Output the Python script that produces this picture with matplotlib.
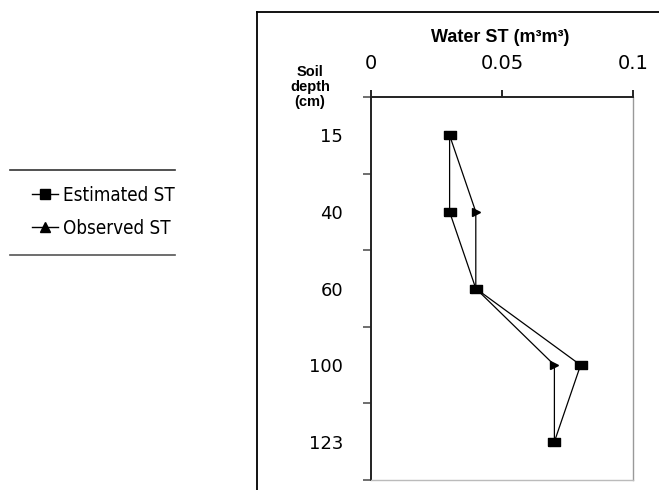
import numpy as np
import matplotlib.pyplot as plt
from matplotlib.lines import Line2D
from matplotlib import font_manager

depths = ["15", "40", "60", "100", "123"]
estimated_st = [0.03, 0.03, 0.04, 0.08, 0.07]
observed_st = [0.03, 0.04, 0.04, 0.07, 0.07]
x_ticks = [0, 0.05, 0.1]
x_labels = ["0", "0.05", "0.1"]

rect_marker = [(-1.4, -1), (1.4, -1), (1.4, 1), (-1.4, 1), (-1.4, -1)]

# look for a narrow regular font for the legend, like Arial Narrow
narrow = None
for f in font_manager.fontManager.ttflist:
    fn = f.fname.split("/")[-1]
    if ("Narrow" in fn or "Condensed" in fn) and "Bold" not in fn \
            and "Oblique" not in fn and "Italic" not in fn:
        narrow = f.fname
        break
if narrow:
    leg_font = font_manager.FontProperties(fname=narrow, size=13.5)
else:
    leg_font = font_manager.FontProperties(family="Liberation Sans", size=13)

fig = plt.figure(figsize=(6.59, 4.90), dpi=100)
ax = fig.add_axes([371 / 659, 1 - 480 / 490, 262 / 659, 383 / 490])

pos = np.arange(len(depths))
ax.plot(observed_st, pos, color="black", lw=0.9, marker=">", ms=6,
        mfc="black", mec="black")
ax.plot(estimated_st, pos, color="black", lw=0.9, marker=rect_marker, ms=9,
        mfc="black", mec="black")

ax.set_xlim(0, 0.1)
ax.set_ylim(len(depths) - 0.5, -0.5)

# x axis on top
ax.xaxis.tick_top()
ax.set_xticks(x_ticks)
ax.set_xticklabels(x_labels, fontsize=14, family="DejaVu Sans")
ax.tick_params(axis="x", direction="out", length=5, width=1.2, pad=12)

# categories with ticks at the band edges
ax.set_yticks(pos)
ax.set_yticklabels(depths, fontsize=13, family="DejaVu Sans")
ax.set_yticks(np.arange(-0.5, len(depths)), minor=True)
ax.tick_params(axis="y", which="major", length=0, pad=20)
ax.tick_params(axis="y", which="minor", direction="out", length=6,
               width=1.2, color="#555555")

for s in ["top", "left"]:
    ax.spines[s].set_linewidth(1.4)
    ax.spines[s].set_color("#222222")
ax.spines["right"].set_color("#999999")
ax.spines["right"].set_linewidth(1.0)
ax.spines["bottom"].set_color("#bbbbbb")
ax.spines["bottom"].set_linewidth(1.0)

fig.text(500 / 659, 1 - 37 / 490, "Water ST (m³m³)", ha="center", va="center",
         fontsize=13, fontweight="bold", family="Liberation Sans")
fig.text(310 / 659, 1 - 87 / 490, "Soil\ndepth\n(cm)", ha="center", va="center",
         fontsize=10.5, fontweight="bold", family="Liberation Sans",
         linespacing=1.1)

# outer frame of chart area
fig.add_artist(Line2D([257 / 659, 257 / 659], [1 - 12 / 490, 0], color="black", lw=1.3))
fig.add_artist(Line2D([257 / 659, 1], [1 - 12 / 490, 1 - 12 / 490], color="black", lw=1.3))

# legend
handles = [
    Line2D([], [], color="black", lw=1, marker="s", ms=7, label="Estimated ST"),
    Line2D([], [], color="black", lw=1, marker="^", ms=7, label="Observed ST"),
]
fig.legend(handles=handles, loc="center left", bbox_to_anchor=(24 / 659, 1 - 212 / 490),
           frameon=False, handlelength=1.4, handletextpad=0.3, labelspacing=0.75,
           borderaxespad=0, prop=leg_font)
fig.add_artist(Line2D([10 / 659, 175 / 659], [1 - 170 / 490, 1 - 170 / 490], color="#333333", lw=1.2))
fig.add_artist(Line2D([10 / 659, 175 / 659], [1 - 255 / 490, 1 - 255 / 490], color="#555555", lw=1.2))

fig.savefig("out.png", dpi=100)
